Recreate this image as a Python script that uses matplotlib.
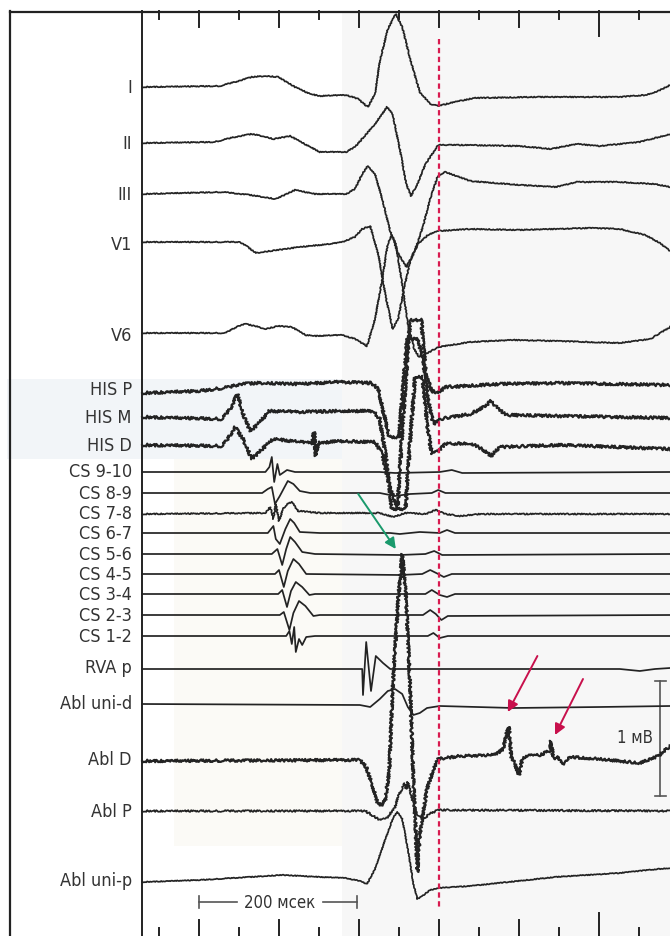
import matplotlib.pyplot as plt
from matplotlib.patches import Rectangle

# intracardiac recording: time in ms, amplitude in display units (up = positive)

labels = ["I", "II", "III", "V1", "V6", "HIS P", "HIS M", "HIS D",
          "CS 9-10", "CS 8-9", "CS 7-8", "CS 6-7", "CS 5-6", "CS 4-5",
          "CS 3-4", "CS 2-3", "CS 1-2", "RVA p", "Abl uni-d", "Abl D",
          "Abl P", "Abl uni-p"]
baselines = [88, 144, 195, 243, 334, 388, 416, 446, 473, 494, 514, 534,
             555, 575, 595, 616, 637, 670, 705, 762, 812, 883]
label_y = [88, 144, 195, 245, 336, 390, 418, 446, 472, 494, 514, 534,
           555, 575, 595, 616, 637, 668, 704, 760, 812, 881]

lead_I = [(-21, 0), (76, 1), (95, 5), (116, 10), (133, 11), (149, 10), (170, 0),
          (189, -7), (201, -9), (234, -8), (249, -12), (261, -20), (270, -7),
          (276, 26), (286, 58), (296, 73), (304, 60), (314, 28), (326, -5),
          (339, -17), (349, -19), (364, -16), (394, -11), (469, -10),
          (576, -10), (608, -8), (624, -4), (639, 2)]
lead_II = [(-21, 0), (69, 1), (95, 6), (116, 9), (129, 7), (143, 4), (164, 7),
           (182, -1), (201, -9), (234, -9), (245, -4), (257, 7), (270, 19),
           (285, 36), (292, 29), (301, -6), (309, -41), (315, -53), (323, -41),
           (333, -21), (349, -2), (376, -2), (451, -3), (490, -6), (522, -1),
           (551, -3), (601, 1), (639, 9)]
lead_III = [(-21, 0), (79, 2), (114, -1), (146, -5), (170, 4), (195, 0),
            (234, 0), (245, 5), (254, 20), (261, 28), (270, 20), (279, -5),
            (289, -37), (298, -58), (309, -73), (316, -63), (324, -47),
            (330, -32), (339, -5), (348, 17), (358, 22), (389, 13), (451, 9),
            (496, 7), (522, 12), (576, 12), (619, 10), (639, 7)]
lead_V1 = [(-21, 0), (101, 0), (111, -5), (121, -11), (139, -9), (176, -5),
           (214, -2), (229, 0), (245, 5), (254, 13), (264, 16), (274, -12),
           (284, -57), (292, -87), (299, -77), (306, -47), (314, -19),
           (324, -2), (336, 7), (349, 11), (389, 13), (451, 12), (539, 14),
           (576, 13), (608, 7), (626, -1), (639, -9)]
lead_V6 = [(-21, 0), (83, 0), (99, 7), (108, 9), (120, 7), (133, 4), (149, 7),
           (166, 6), (183, -2), (195, -3), (229, -2), (245, -6), (260, -13),
           (270, 14), (279, 54), (286, 89), (291, 98), (296, 89), (304, 49),
           (311, 9), (319, -16), (325, -24), (336, -20), (349, -14),
           (389, -9), (443, -7), (496, -8), (576, -10), (614, -6), (639, 6)]
his_p = [(-21, -6), (51, -4), (89, 0), (101, 3), (126, 4), (176, 3), (226, 5),
         (266, 4), (274, -2), (281, -27), (288, -50), (300, -50), (310, 48),
         (324, 48), (333, 13), (341, -4), (349, -6), (358, 0), (426, 3),
         (501, 4), (639, 2)]
his_m = [(-21, -2), (79, -4), (89, 6), (98, 21), (105, 1), (114, -16),
         (124, -9), (138, 4), (176, 3), (226, 4), (268, 4), (276, -4),
         (284, -44), (291, -94), (298, -94), (305, -4), (314, 95), (328, 95),
         (336, 16), (343, -9), (351, -4), (389, 1), (406, 8), (415, 14),
         (424, 6), (434, 0), (501, -1), (639, -3)]
his_d = [(-21, 0), (79, -1), (86, 6), (95, 18), (105, 6), (116, -14),
         (129, -4), (143, 6), (176, 3), (191, 2), (194, 13), (196, -11),
         (199, 2), (226, 4), (270, 3), (279, -9), (289, -44), (299, -64),
         (308, -64), (314, 6), (320, 68), (329, 68), (336, 16), (341, -9),
         (349, -6), (358, 1), (389, 2), (404, -4), (415, -11), (426, -2),
         (501, 0), (639, -4)]
cs_9_10 = [(-21, 0), (133, 0), (138, 5), (141, 15), (144, -10), (148, 8),
           (151, -3), (160, 2), (170, 0), (276, 0), (295, -1), (351, 0),
           (366, 2), (379, -1), (639, 0)]
cs_8_9 = [(-21, 0), (129, 0), (136, 4), (141, 6), (145, -11), (151, -3),
          (161, 12), (168, 9), (176, 2), (189, 0), (276, 0), (295, -3),
          (314, -1), (341, 0), (349, 3), (358, 0), (639, 0)]
cs_7_8 = [(-21, -1), (133, 0), (139, 6), (143, -6), (146, 9), (150, -8),
          (155, 4), (161, 9), (166, 11), (174, 2), (201, 0), (276, 0),
          (293, -4), (308, 0), (333, -1), (346, 3), (358, -1), (376, -3),
          (401, -1), (639, -1)]
cs_6_7 = [(-21, 0), (136, 0), (143, 7), (146, -6), (151, -11), (158, 4),
          (164, 14), (169, 10), (176, 1), (201, 0), (289, 0), (301, -1),
          (326, 1), (351, 0), (360, 3), (370, 0), (639, 0)]
cs_5_6 = [(-21, 0), (141, 0), (148, 5), (154, -11), (159, 5), (164, 17),
          (170, 12), (179, 2), (195, 0), (301, -1), (333, 0), (344, 3),
          (354, -1), (639, 0)]
cs_4_5 = [(-21, 0), (145, 0), (150, 4), (156, -13), (161, 3), (168, 15),
          (175, 10), (184, 0), (301, -1), (329, 0), (339, 4), (349, 0),
          (356, -3), (366, 0), (639, 0)]
cs_3_4 = [(-21, 0), (149, 0), (154, 4), (160, -13), (165, 3), (171, 12),
          (179, 7), (188, -1), (195, 0), (301, 0), (333, 0), (341, 4),
          (351, -1), (360, -3), (370, 0), (639, 0)]
cs_2_3 = [(-21, 0), (151, 0), (156, 3), (163, -15), (168, 2), (175, 14),
          (183, 9), (193, -1), (201, 0), (301, 0), (330, 0), (339, 5),
          (346, 1), (353, -5), (361, -1), (639, 0)]
cs_1_2 = [(-21, 0), (159, 0), (163, 5), (166, -8), (169, 9), (171, -16),
          (175, -3), (179, -9), (184, -1), (195, 0), (336, 0), (343, 3),
          (351, -2), (361, 0), (639, 0)]
rva_p = [(-21, 0), (254, 0), (255, -26), (259, 27), (265, -22), (271, 13),
         (280, 6), (289, 0), (576, 0), (601, -2), (620, 0), (639, 1)]
abl_uni_d = [(-21, 0), (251, -1), (264, -3), (276, 5), (286, 13), (295, 15),
             (304, 10), (311, -3), (318, -11), (326, -9), (335, -4),
             (351, -2), (443, -4), (551, -3), (639, -2)]
abl_d = [(-21, 0), (251, 1), (259, -6), (266, -23), (273, -41), (278, -45),
         (283, -38), (288, -8), (292, 72), (299, 162), (304, 207), (309, 162),
         (314, 72), (318, -18), (323, -111), (326, -73), (335, -28),
         (343, -8), (349, 2), (376, 5), (420, 6), (430, 12), (435, 29),
         (438, 34), (440, 5), (445, -3), (450, -14), (454, 2), (459, 5),
         (476, 6), (488, 10), (490, 20), (493, 2), (498, 5), (505, -4),
         (514, 4), (551, 2), (601, -2), (624, 5), (639, 15)]
abl_p = [(-21, 0), (258, 0), (268, -5), (276, -9), (286, -6), (295, 4),
         (300, 17), (304, 22), (306, 28), (309, 22), (311, 29), (315, 17),
         (320, 0), (326, -6), (331, -8), (338, -3), (349, 1), (639, 0)]
abl_uni_p = [(-21, 0), (51, 2), (114, 5), (154, 7), (201, 5), (233, 4),
             (251, 1), (260, -2), (270, 13), (283, 43), (293, 65), (298, 70),
             (304, 63), (311, 33), (318, -2), (323, -17), (329, -14),
             (339, -8), (349, -6), (389, -4), (496, 5), (576, 9), (624, 13),
             (639, 14)]

channels = [lead_I, lead_II, lead_III, lead_V1, lead_V6, his_p, his_m, his_d,
            cs_9_10, cs_8_9, cs_7_8, cs_6_7, cs_5_6, cs_4_5, cs_3_4, cs_2_3,
            cs_1_2, rva_p, abl_uni_d, abl_d, abl_p, abl_uni_p]
# wiggle of the raw signal (pixels), 0 = clean line
noise = [0.5, 0.5, 0.5, 0.5, 0.5, 1.4, 1.4, 1.4, 0, 0, 0.6, 0, 0, 0, 0, 0, 0,
         0, 0, 1.3, 0.9, 0.4]

tick_ms = list(range(0, 601, 50))
mark_ms = 350

label_font = dict(family=["Liberation Sans Narrow", "DejaVu Sans"],
                  fontstretch="condensed", color="#333333")

fig = plt.figure(figsize=(6.7, 9.37), dpi=100)
ax = fig.add_axes([0, 0, 1, 1])
ax.set_xlim(-198.75, 638.75)
ax.set_ylim(937, 0)
ax.axis("off")

# faint scan background
ax.add_patch(Rectangle((229, 12), 420, 930, color="#f7f7f7", zorder=0, lw=0))
ax.add_patch(Rectangle((-190, 380), 419, 80, color="#f2f5f8", zorder=0, lw=0))
ax.add_patch(Rectangle((19, 460), 210, 387, color="#fbfaf6", zorder=0, lw=0))

ink = "#232323"
for name, base, ly, pts, nz in zip(labels, baselines, label_y, channels, noise):
    t = [p[0] for p in pts]
    y = [base - p[1] for p in pts]
    lw = 1.6 if nz > 1 else 1.25
    line, = ax.plot(t, y, color=ink, lw=lw, solid_joinstyle="round", zorder=3)
    if nz:
        line.set_sketch_params(scale=nz, length=2.5, randomness=2.5)
    ax.text(-34, ly, name, ha="right", va="center", fontsize=13, **label_font)

# frame and time ticks
ax.plot([-186, 638.75], [12.5, 12.5], color="#222222", lw=1.6, zorder=4)
ax.plot([-186, -186], [12, 937], color="#222222", lw=1.6, zorder=4)
ax.plot([-21, -21], [12, 937], color="#222222", lw=1.4, zorder=4)
for tm in tick_ms:
    if tm == 550:
        ln = 25
    elif tm % 100 == 50:
        ln = 16
    else:
        ln = 8
    ax.plot([tm, tm], [12, 12 + ln], color="#222222", lw=1.4, zorder=4)
    ax.plot([tm, tm], [937, 937 - ln + (2 if ln == 25 else 0)], color="#222222",
            lw=1.4, zorder=4)

# reference line
ax.plot([mark_ms, mark_ms], [40, 908], color="#d81b50", lw=1.6,
        dashes=(2.4, 1.6), zorder=5)

# arrows
ax.annotate("", xy=(296, 550), xytext=(249, 495),
            arrowprops=dict(arrowstyle="-|>", color="#1a9a6c", lw=1.4,
                            mutation_scale=16, shrinkA=0, shrinkB=0), zorder=6)
ax.annotate("", xy=(436, 713), xytext=(473, 657),
            arrowprops=dict(arrowstyle="-|>", color="#c8104c", lw=1.4,
                            mutation_scale=16, shrinkA=0, shrinkB=0), zorder=6)
ax.annotate("", xy=(495, 736), xytext=(530, 680),
            arrowprops=dict(arrowstyle="-|>", color="#c8104c", lw=1.4,
                            mutation_scale=16, shrinkA=0, shrinkB=0), zorder=6)

# amplitude scale bar
bar_col = "#555555"
ax.plot([626, 626], [682, 797], color=bar_col, lw=1.2)
ax.plot([620, 634], [682, 682], color=bar_col, lw=1.2)
ax.plot([620, 634], [797, 797], color=bar_col, lw=1.2)
ax.text(617, 738, "1 мВ", ha="right", va="center", fontsize=12, **label_font)

# time scale bar
ax.plot([50, 98], [903, 903], color=bar_col, lw=1.2)
ax.plot([205, 248], [903, 903], color=bar_col, lw=1.2)
ax.plot([50, 50], [897, 909], color=bar_col, lw=1.2)
ax.plot([248, 248], [897, 909], color=bar_col, lw=1.2)
ax.text(151, 903, "200 мсек", ha="center", va="center", fontsize=12,
        **label_font)

fig.savefig("out.png", dpi=100)
